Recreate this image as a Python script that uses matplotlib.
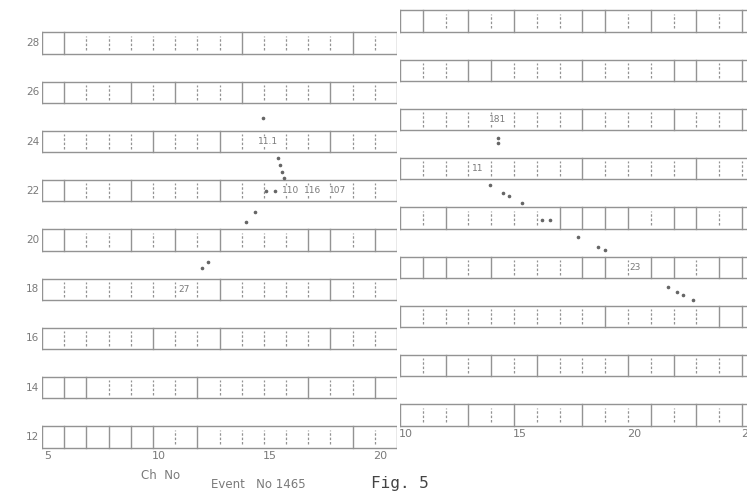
import matplotlib.pyplot as plt

# layers and channels of the two halves
left_layers = [28, 26, 24, 22, 20, 18, 16, 14, 12]
right_layers = [29, 27, 25, 23, 21, 19, 17, 15, 13]
left_channels = list(range(5, 21))
right_channels = list(range(10, 26))
left_ticks = [5, 10, 15, 20]
right_ticks = [10, 15, 20, 25]

# cell walls: S = solid wall, D = dashed wire mark (17 per row)
left_walls = ["SSDDDDDDDSDDDDSDS",
              "SSDDSDSDDSDDDSDDS",
              "SDDDDSDDSDDDDSDDS",
              "SSDDSDDDSDDDDDDDS",
              "SSDDSDSDSDDDSSDSS",
              "SDDDDDDDSDDDDSDDS",
              "SDDDDSDDSDDDDSDDS",
              "SSSDDDDSDDDDSDDSS",
              "SSSSSSDSDDDDDDSDS"]
right_walls = ["SSDSDSDDSSDSDSDSS",
               "SDDSSDDDSDDDSSDSS",
               "SDDDDDDDSDDDSDDSS",
               "SDDDDDDDSDDDDSDDS",
               "SDSDDDDSSSSDSSDSS",
               "SSSDSDDDSSDSSDSSS",
               "SDDDDDDDDSDDDDSSS",
               "SDSDSDSDDDSDSDDSS",
               "SDDSDSDDSDDSDSDSS"]

# hit values written in the cells
left_hit_ch = [14.7, 15.7, 16.7, 17.8, 10.9]
left_hit_layer = [24, 22, 22, 22, 18]
left_hit_text = ["11.1", "110", "116", "107", "27"]
right_hit_ch = [13.8, 12.9, 19.8]
right_hit_layer = [25, 23, 19]
right_hit_text = ["181", "11", "23"]

# track points between the layers
left_track_ch = [14.46, 15.14, 15.23, 15.32, 15.41, 14.6, 15.0, 14.1, 13.69, 11.98, 11.71]
left_track_layer = [24.95, 23.33, 23.05, 22.76, 22.52, 22.0, 22.0, 21.14, 20.73, 19.11, 18.86]
right_track_ch = [13.8, 13.8, 13.45, 14.02, 14.28, 14.85, 15.73, 16.08, 17.31, 18.18, 18.49,
                  21.25, 21.65, 21.91, 22.35]
right_track_layer = [24.25, 24.05, 22.34, 22.02, 21.89, 21.61, 20.92, 20.92, 20.23, 19.82, 19.7,
                     18.2, 17.99, 17.87, 17.67]

grey = "#939393"
txt = "#7a7a7a"
half = 0.43

def draw_panel(ax, layers, channels, walls, hit_ch, hit_layer, hit_text, tr_ch, tr_layer, ticks, labels):
    x0 = channels[0] - 0.5
    x1 = channels[-1] + 0.5
    for L, w in zip(layers, walls):
        ax.plot([x0, x1], [L + half, L + half], color=grey, lw=1.0)
        ax.plot([x0, x1], [L - half, L - half], color=grey, lw=1.0)
        for i, s in enumerate(w):
            xb = x0 + i
            if s == "S":
                ax.plot([xb, xb], [L - half, L + half], color=grey, lw=1.0)
            else:
                ax.plot([xb, xb], [L - 0.3, L + 0.3], color=grey, lw=0.9, ls=(0, (2, 1.5)))
        if labels:
            ax.text(x0 - 0.12, L, str(L), ha="right", va="center", fontsize=7.5, color=txt)
    for c, L, t in zip(hit_ch, hit_layer, hit_text):
        ax.text(c, L, t, ha="center", va="center", fontsize=6.5, color=txt,
                bbox=dict(fc="white", ec="none", pad=0.3))
    ax.plot(tr_ch, tr_layer, ls="none", marker="o", ms=1.6, color="#666666")
    for t in ticks:
        ax.text(t - 0.25, min(layers) - 0.78, str(t), ha="center", va="center",
                fontsize=8, color=txt)
    ax.set_xlim(x0, x1)
    ax.axis("off")

fig = plt.figure(figsize=(7.47, 4.94), dpi=100)

axl = fig.add_axes([42 / 747, 1 - 461.6 / 494, 355 / 747, 443.2 / 494])
draw_panel(axl, left_layers, left_channels, left_walls, left_hit_ch, left_hit_layer,
           left_hit_text, left_track_ch, left_track_layer, left_ticks, True)
axl.set_ylim(11, 29)

axr = fig.add_axes([400 / 747, 1 - 439.6 / 494, 364.8 / 747, 443.2 / 494])
draw_panel(axr, right_layers, right_channels, right_walls, right_hit_ch, right_hit_layer,
           right_hit_text, right_track_ch, right_track_layer, right_ticks, False)
axr.set_ylim(12, 30)

fig.text(161 / 747, 1 - 475 / 494, "Ch  No", ha="center", va="center", fontsize=8.5, color=txt)
fig.text(258 / 747, 1 - 484 / 494, "Event   No 1465", ha="center", va="center", fontsize=8.5, color=txt)
fig.text(400 / 747, 1 - 483 / 494, "Fig. 5", ha="center", va="center", fontsize=11.5,
         family="DejaVu Sans Mono", color="#444444")

fig.savefig("out.png", dpi=100)
